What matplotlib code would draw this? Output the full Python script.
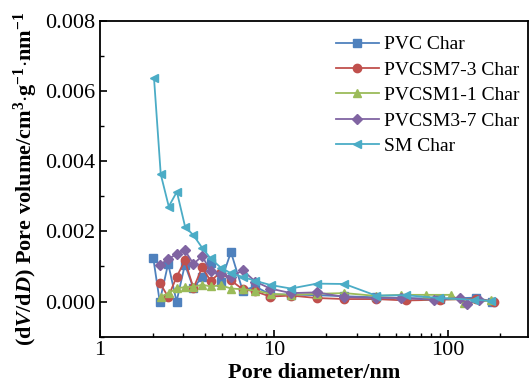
import numpy as np
import matplotlib.pyplot as plt
from matplotlib.ticker import MultipleLocator, LogLocator

plt.rcParams['font.family'] = 'serif'
plt.rcParams['font.serif'] = ['Liberation Serif', 'DejaVu Serif']
plt.rcParams['mathtext.fontset'] = 'custom'
plt.rcParams['mathtext.rm'] = 'Liberation Serif:bold'
plt.rcParams['mathtext.it'] = 'Liberation Serif:italic:bold'
plt.rcParams['mathtext.bf'] = 'Liberation Serif:bold'

# Dados
pvc_x = [2.02, 2.2, 2.46, 2.75, 3.07, 3.44, 3.86, 4.31, 4.93, 5.65, 6.6, 7.8,
         9.5, 12.5, 17.6, 25.4, 38.5, 57, 90, 145, 178]
pvc_y = [0.00124, 0.0, 0.00108, 0.0, 0.00105, 0.00038, 0.00071, 0.00110, 0.00055,
         0.00141, 0.00031, 0.00043, 0.00020, 0.00020, 0.00018, 0.00015, 0.00012,
         0.00010, 0.00008, 0.00011, 0.0]

sm73_x = [2.2, 2.46, 2.75, 3.07, 3.44, 3.86, 4.31, 4.93, 5.65, 6.6, 7.8, 9.5,
          12.5, 17.6, 25.4, 38.5, 57, 90, 145, 183]
sm73_y = [0.00054, 0.00013, 0.00070, 0.00117, 0.00038, 0.00098, 0.00059, 0.00083,
          0.00060, 0.00035, 0.00029, 0.00014, 0.00017, 0.00010, 0.00007, 0.00007,
          0.00003, 0.00005, 0.00008, 0.0]

sm11_x = [2.23, 2.48, 2.76, 3.08, 3.44, 3.86, 4.31, 4.93, 5.68, 6.63, 7.8, 9.55,
          12.5, 17.6, 25.4, 38.5, 53.5, 74.5, 103.5, 124, 176]
sm11_y = [0.00014, 0.00024, 0.00038, 0.00041, 0.00042, 0.00048, 0.00043, 0.00046,
          0.00037, 0.00035, 0.00031, 0.00022, 0.00019, 0.00022, 0.00024, 0.00016,
          0.00019, 0.00019, 0.00019, -0.00005, 0.00003]

sm37_x = [2.2, 2.46, 2.75, 3.07, 3.44, 3.86, 4.31, 4.93, 5.65, 6.6, 7.8, 9.5,
          12.5, 17.6, 25.4, 38.5, 53.5, 83, 118, 128, 150]
sm37_y = [0.00105, 0.00120, 0.00136, 0.00146, 0.00107, 0.00130, 0.00086, 0.00078,
          0.00070, 0.00089, 0.00057, 0.00037, 0.00024, 0.00026, 0.00013, 0.00010,
          0.00010, 0.00005, 0.00010, -0.00007, 0.00005]

sm_x = [2.04, 2.23, 2.48, 2.76, 3.08, 3.44, 3.86, 4.31, 4.93, 5.68, 6.63, 7.8,
        9.55, 12.5, 17.6, 25.4, 38.5, 57, 89, 142, 176]
sm_y = [0.00637, 0.00363, 0.00271, 0.00313, 0.00213, 0.00189, 0.00153, 0.00123,
        0.00097, 0.00080, 0.00070, 0.00059, 0.00047, 0.00037, 0.00051, 0.00050,
        0.00017, 0.00018, 0.00010, 0.00005, 0.00002]

series = [
    (pvc_x, pvc_y, 'PVC Char', '#4F81BD', 's'),
    (sm73_x, sm73_y, 'PVCSM7-3 Char', '#C0504D', 'o'),
    (sm11_x, sm11_y, 'PVCSM1-1 Char', '#9BBB59', '^'),
    (sm37_x, sm37_y, 'PVCSM3-7 Char', '#8064A2', 'D'),
    (sm_x, sm_y, 'SM Char', '#4BACC6', '<'),
]

fig = plt.figure(figsize=(5.3, 3.9), dpi=100)
ax = fig.add_axes([0.189, 0.137, 0.808, 0.809])

for x, y, label, cor, mk in series:
    ms = 5.5 if mk == 'D' else 6
    ax.plot(x, y, color=cor, marker=mk, markersize=ms, linewidth=1.3, label=label)

ax.set_xscale('log')
ax.set_xlim(1, 290)
ax.set_ylim(-0.001, 0.008)
ax.set_xticks([1, 10, 100])
ax.set_xticklabels(['1', '10', '100'])
ax.xaxis.set_minor_locator(LogLocator(base=10, subs=np.arange(2, 10)))
ax.xaxis.set_minor_formatter(plt.NullFormatter())
ax.set_yticks([0.0, 0.002, 0.004, 0.006, 0.008])
ax.set_yticklabels(['0.000', '0.002', '0.004', '0.006', '0.008'])
ax.yaxis.set_minor_locator(MultipleLocator(0.001))

ax.tick_params(which='both', direction='in', labelsize=16, top=False, right=False)
ax.tick_params(which='major', length=5, width=1.2)
ax.tick_params(which='minor', length=3, width=1.0)
for s in ax.spines.values():
    s.set_linewidth(1.3)

ax.set_xlabel('Pore diameter/nm', fontsize=16, fontweight='bold', labelpad=2)
ax.set_ylabel(r'(d$\it{V}$/d$\it{D}$) Pore volume/cm$^{3}$$\cdot$g$^{-1}$$\cdot$nm$^{-1}$',
              fontsize=16, fontweight='bold', labelpad=4)

ax.legend(loc='upper left', bbox_to_anchor=(326 / 530, 1 - 26 / 390),
          bbox_transform=fig.transFigure, frameon=False, fontsize=14,
          handlelength=2.2, handletextpad=0.3, labelspacing=0.4, borderpad=0)

fig.savefig('out.png', dpi=100)
